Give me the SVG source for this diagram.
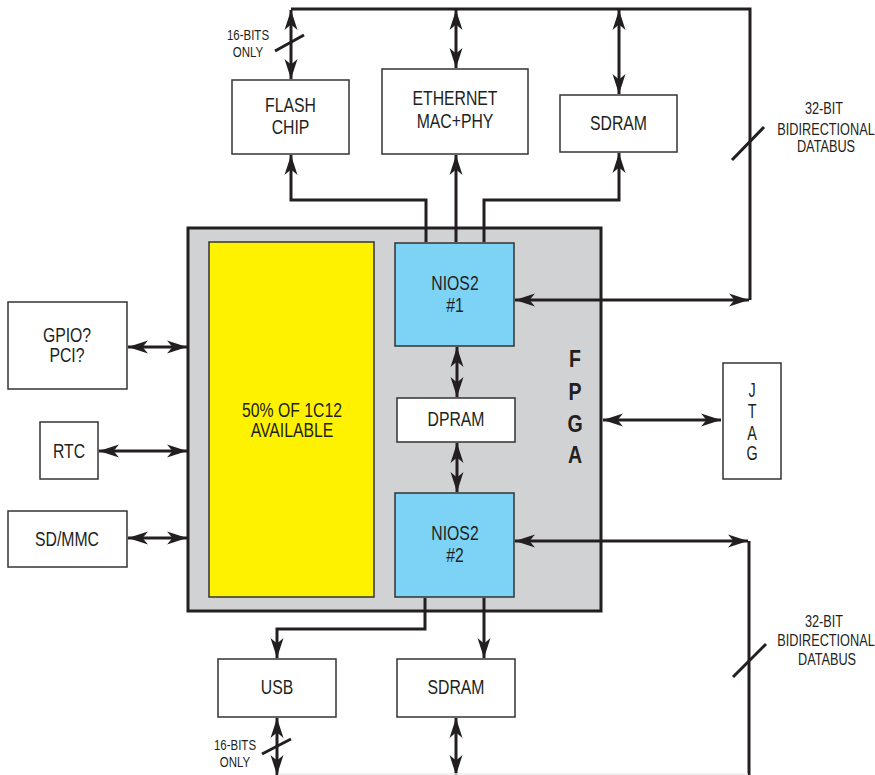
<svg xmlns="http://www.w3.org/2000/svg" width="875" height="775" viewBox="0 0 875 775">
<style>
.box{fill:#fff;stroke:#333;stroke-width:1.5}
.nios{fill:#7dd3f5;stroke:#333;stroke-width:1.5}
text{font-family:"Liberation Sans",Arial,sans-serif;fill:#231f20;text-anchor:middle;transform-box:fill-box;transform-origin:center}
.t{font-size:20.5px;transform:scaleX(0.77)}
.s{font-size:16.3px;transform:scaleX(0.78)}
.b{font-size:14px;transform:scaleX(0.82)}
.j{font-size:20px;transform:scaleX(0.72)}
.f{font-size:23px;font-weight:bold;transform:scaleX(0.85)}
.c{fill:none;stroke:#231f20;stroke-width:3}
.a1{marker-end:url(#ah)}
.a2{marker-start:url(#ah);marker-end:url(#ah)}
.sl{stroke:#231f20;stroke-width:3}
</style>
<defs>
<marker id="ah" viewBox="-21 -8 22 16" refX="0" refY="0" markerWidth="22" markerHeight="16" markerUnits="userSpaceOnUse" orient="auto-start-reverse">
<path d="M0,0 L-20,-6.5 L-14.5,0 L-20,6.5 Z" fill="#231f20"/>
</marker>
</defs>

<g id="fpga">
<rect x="188" y="228" width="413" height="383" fill="#d1d2d4" stroke="#231f20" stroke-width="3"/>
<text class="f" x="575" y="367">F</text>
<text class="f" x="575" y="400">P</text>
<text class="f" x="575" y="432">G</text>
<text class="f" x="575" y="463">A</text>
</g>
<g id="available">
<rect x="209" y="242" width="165" height="355" fill="#fff200" stroke="#333" stroke-width="1.5"/>
<text class="t" x="292" y="417">50% OF 1C12</text>
<text class="t" x="292" y="437">AVAILABLE</text>
</g>
<g id="nios1">
<rect class="nios" x="395" y="243" width="119" height="103"/>
<text class="t" x="455" y="290">NIOS2</text>
<text class="t" x="455" y="312">#1</text>
</g>
<g id="dpram">
<rect class="box" x="397" y="398" width="118" height="44"/>
<text class="t" x="456" y="426">DPRAM</text>
</g>
<g id="nios2">
<rect class="nios" x="395" y="493" width="119" height="104"/>
<text class="t" x="455" y="540">NIOS2</text>
<text class="t" x="455" y="562">#2</text>
</g>
<g id="flash">
<rect class="box" x="232" y="80" width="117" height="74"/>
<text class="t" x="290.5" y="112">FLASH</text>
<text class="t" x="290.5" y="134">CHIP</text>
</g>
<g id="ethernet">
<rect class="box" x="382" y="69" width="146" height="85"/>
<text class="t" x="455" y="105">ETHERNET</text>
<text class="t" x="455" y="128">MAC+PHY</text>
</g>
<g id="sdram-top">
<rect class="box" x="560" y="95" width="117" height="57"/>
<text class="t" x="618.5" y="130">SDRAM</text>
</g>
<g id="gpio">
<rect class="box" x="8" y="302" width="119" height="87"/>
<text class="t" x="67" y="342">GPIO?</text>
<text class="t" x="67" y="362">PCI?</text>
</g>
<g id="rtc">
<rect class="box" x="40" y="422" width="58" height="57"/>
<text class="t" x="69" y="458">RTC</text>
</g>
<g id="sdmmc">
<rect class="box" x="8" y="511" width="119" height="56"/>
<text class="t" x="67" y="546">SD/MMC</text>
</g>
<g id="jtag">
<rect class="box" x="723" y="363" width="58" height="116"/>
<text class="j" x="752" y="397">J</text>
<text class="j" x="752" y="418">T</text>
<text class="j" x="752" y="440">A</text>
<text class="j" x="752" y="460">G</text>
</g>
<g id="usb">
<rect class="box" x="218" y="659" width="118" height="58"/>
<text class="t" x="277" y="694">USB</text>
</g>
<g id="sdram-bottom">
<rect class="box" x="397" y="659" width="118" height="58"/>
<text class="t" x="456" y="694">SDRAM</text>
</g>

<g id="connectors">
<polyline class="c" points="291,9 750,9 750,300"/>
<line class="c a2" x1="291" y1="10" x2="291" y2="79"/>
<line class="c a2" x1="456" y1="10" x2="456" y2="68"/>
<line class="c a2" x1="619" y1="10" x2="619" y2="94"/>
<line class="c a2" x1="515" y1="300" x2="749" y2="300"/>
<polyline class="c a1" points="426,242 426,200 291,200 291,155"/>
<line class="c a1" x1="456" y1="242" x2="456" y2="155"/>
<polyline class="c a1" points="484,242 484,200 619,200 619,153"/>
<line class="c a2" x1="457" y1="347" x2="457" y2="397"/>
<line class="c a2" x1="457" y1="443" x2="457" y2="492"/>
<line class="c a2" x1="128" y1="347" x2="187" y2="347"/>
<line class="c a2" x1="99" y1="451" x2="187" y2="451"/>
<line class="c a2" x1="128" y1="538" x2="187" y2="538"/>
<line class="c a2" x1="603" y1="420" x2="721" y2="420"/>
<polyline class="c a1" points="425,598 425,629 277,629 277,658"/>
<line class="c a1" x1="484" y1="598" x2="484" y2="658"/>
<line class="c a2" x1="277" y1="718" x2="277" y2="775"/>
<line class="c a2" x1="456" y1="718" x2="456" y2="775"/>
<line class="c a2" x1="515" y1="541" x2="748" y2="541"/>
<line class="c" x1="749" y1="541" x2="749" y2="775"/>
<line x1="278" y1="774" x2="748" y2="774" stroke="#ececec" stroke-width="1.5"/>
<line class="sl" x1="275" y1="51" x2="304" y2="35"/>
<line class="sl" x1="732" y1="160" x2="764" y2="127"/>
<line class="sl" x1="733" y1="677" x2="766" y2="644"/>
<line class="sl" x1="262" y1="754" x2="291" y2="739"/>
</g>

<g id="labels">
<text class="b" x="248" y="40">16-BITS</text>
<text class="b" x="248" y="57">ONLY</text>
<text class="s" x="824" y="114">32-BIT</text>
<text class="s" x="826" y="135">BIDIRECTIONAL</text>
<text class="s" x="826" y="152">DATABUS</text>
<text class="s" x="824" y="627">32-BIT</text>
<text class="s" x="826" y="646">BIDIRECTIONAL</text>
<text class="s" x="827" y="665">DATABUS</text>
<text class="b" x="235" y="750">16-BITS</text>
<text class="b" x="235" y="767">ONLY</text>
</g>
</svg>
